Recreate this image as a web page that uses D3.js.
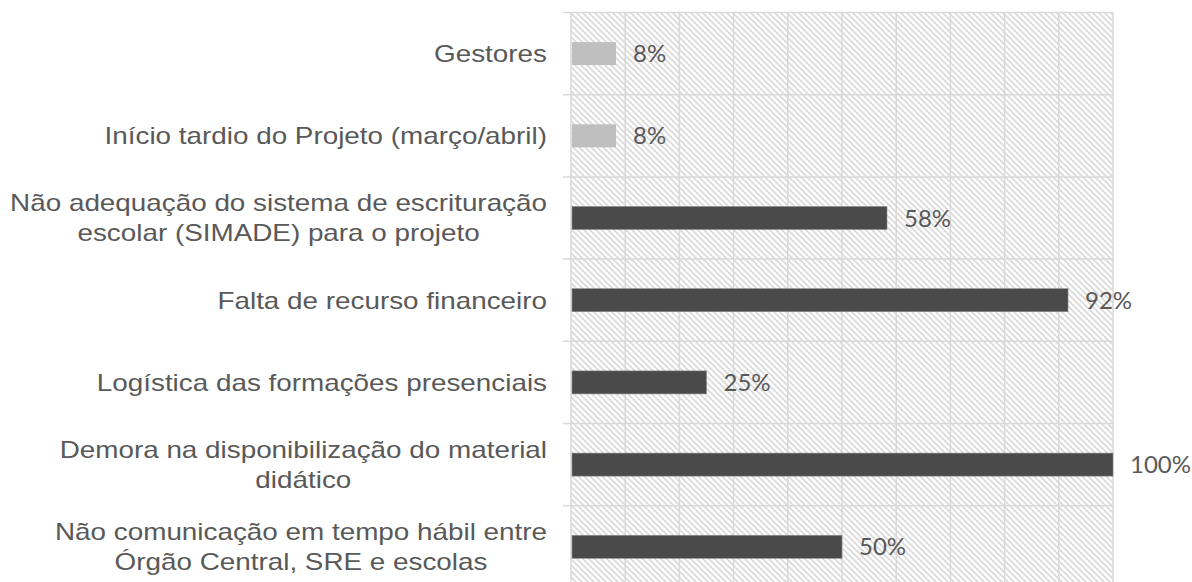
<!DOCTYPE html>
<html>
<head>
<meta charset="utf-8">
<script src="https://cdn.jsdelivr.net/npm/d3@7"></script>
<style>
  html, body { margin: 0; padding: 0; background: #fff; }
  #chart { width: 1192px; height: 582px; overflow: hidden; }
</style>
</head>
<body>
<div id="chart"></div>
<script>
// categories, top to bottom (each line of the label is one entry)
const categories = [
    ["Gestores"],
    ["Início tardio do Projeto (março/abril)"],
    ["Não adequação do sistema de escrituração", "escolar (SIMADE) para o projeto"],
    ["Falta de recurso financeiro"],
    ["Logística das formações presenciais"],
    ["Demora na disponibilização do material", "didático"],
    ["Não comunicação em tempo hábil entre", "Órgão Central, SRE e escolas"]
];
const values = [8.3, 8.3, 58.3, 91.7, 25, 100, 50];
const barColors = ["#bfbfbf", "#bfbfbf", "#4a4a4a", "#4a4a4a", "#4a4a4a", "#4a4a4a", "#4a4a4a"];
const gridTicks = [0, 10, 20, 30, 40, 50, 60, 70, 80, 90, 100];

document.addEventListener('DOMContentLoaded', function() {
    const width = 1192, height = 582;
    const left = 571, right = 1113, top = 12.5, rowH = 82.2;

    const svg = d3.select('#chart')
        .append('svg')
        .attr('width', width)
        .attr('height', height);

    const x = d3.scaleLinear().domain([0, 100]).range([left, right]);
    const y = d3.scaleBand()
        .domain(d3.range(categories.length))
        .range([top, top + rowH * categories.length])
        .paddingInner(0.72)
        .paddingOuter(0.36);

    // hatched plot background
    const defs = svg.append("defs");
    const pat = defs.append("pattern")
        .attr("id", "hatch")
        .attr("patternUnits", "userSpaceOnUse")
        .attr("width", 6)
        .attr("height", 6);
    pat.append("rect").attr("width", 6).attr("height", 6).attr("fill", "#fff");
    pat.append("path")
        .attr("d", "M-1,-1 L7,7 M-4,2 L2,8 M4,-2 L8,2")
        .attr("stroke", "#dadada")
        .attr("stroke-width", 1.7);

    const yBottom = top + rowH * categories.length;
    svg.append("rect")
        .attr("x", left).attr("y", top)
        .attr("width", right - left).attr("height", yBottom - top)
        .attr("fill", "url(#hatch)");

    // grid
    const grid = svg.append("g").attr("stroke", "#d9d9d9").attr("stroke-width", 1.5);
    grid.selectAll("line.v")
        .data(gridTicks)
        .join("line")
        .attr("class", "v")
        .attr("x1", d => x(d)).attr("x2", d => x(d))
        .attr("y1", top).attr("y2", yBottom);
    grid.selectAll("line.h")
        .data(d3.range(categories.length + 1))
        .join("line")
        .attr("class", "h")
        .attr("x1", left - 8).attr("x2", right)
        .attr("y1", i => top + i * rowH).attr("y2", i => top + i * rowH);

    // bars
    svg.append("g")
        .selectAll("rect")
        .data(values)
        .join("rect")
        .attr("x", x(0) + 1)
        .attr("y", (d, i) => y(i))
        .attr("width", d => x(d) - x(0) - 1)
        .attr("height", y.bandwidth())
        .attr("fill", (d, i) => barColors[i])
        .attr("stroke", (d, i) => i < 2 ? "none" : "#8a8a8a")
        .attr("stroke-width", 0.6);

    // value labels
    svg.append("g")
        .selectAll("text")
        .data(values)
        .join("text")
        .attr("x", d => x(d) + 17)
        .attr("y", (d, i) => y(i) + y.bandwidth() / 2)
        .attr("dy", "0.36em")
        .style("font-family", "Lato, 'Open Sans', sans-serif")
        .style("font-size", "24px")
        .style("fill", "#595959")
        .text(d => Math.round(d) + "%");

    // category labels: block right aligned, lines centred within block
    // (source text is a bit wider than Arial, so stretch horizontally)
    const labelRight = 547, lineH = 30, sx = 1.16;
    const lab = svg.append("g")
        .style("font-family", "'Liberation Sans', Arial, sans-serif")
        .style("font-size", "24px")
        .style("fill", "#595959");
    categories.forEach((lines, i) => {
        const cy = y(i) + y.bandwidth() / 2;
        const g = lab.append("g").attr("transform", `translate(${labelRight},0) scale(${sx},1)`);
        const t = g.append("text").attr("text-anchor", "middle");
        const spans = lines.map((s, k) => t.append("tspan")
            .attr("y", cy + (k - (lines.length - 1) / 2) * lineH)
            .attr("dy", "0.35em")
            .text(s));
        const w = d3.max(spans, sp => sp.node().getComputedTextLength());
        spans.forEach(sp => sp.attr("x", -w / 2));
    });
});
</script>
</body>
</html>
